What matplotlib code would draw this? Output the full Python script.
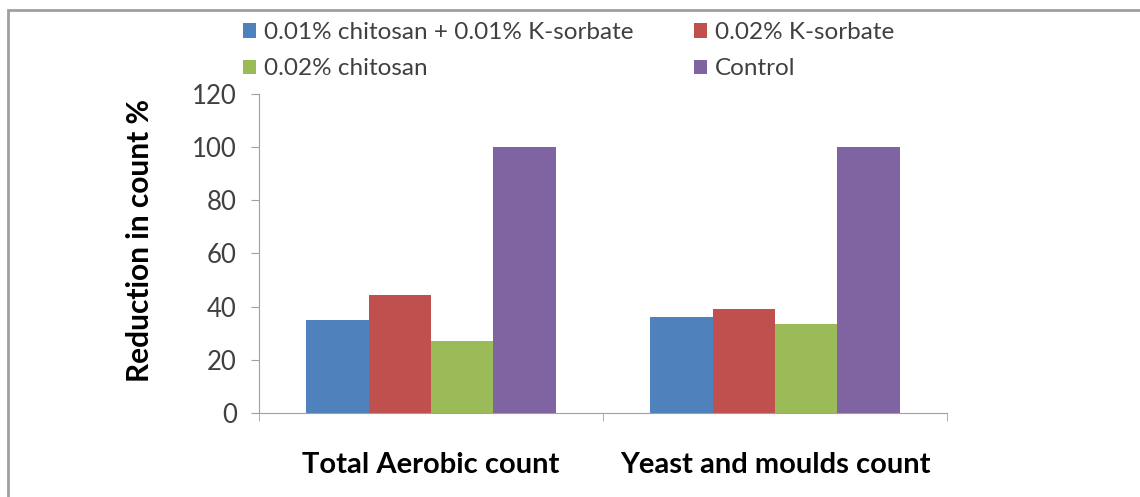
import matplotlib
matplotlib.use("Agg")
import numpy as np
import matplotlib.pyplot as plt
from matplotlib.patches import Rectangle

categories = ["Total Aerobic count", "Yeast and moulds count"]
series_names = ["0.01% chitosan + 0.01% K-sorbate", "0.02% K-sorbate",
                "0.02% chitosan", "Control"]
combo = [35, 36]
sorbate = [44.5, 39]
chitosan = [27, 33.5]
control = [100, 100]
colors = ["#4F81BD", "#C0504D", "#9BBB59", "#8064A2"]
yticks = [0, 20, 40, 60, 80, 100, 120]

plt.rcParams['font.family'] = ['Lato', 'DejaVu Sans']

fig = plt.figure(figsize=(11.4, 4.97), dpi=100)
ax = fig.add_axes([0.2272, 0.169, 0.6035, 0.6419])

x = np.arange(len(categories))
w = 0.181
bars = []
for i, (vals, c, name) in enumerate(zip([combo, sorbate, chitosan, control], colors, series_names)):
    b = ax.bar(x + (i - 1.5) * w, vals, width=w, color=c, label=name)
    bars.append(b)

ax.set_xlim(-0.5, 1.5)
ax.set_ylim(0, 120)
ax.set_yticks(yticks)
ax.tick_params(axis='y', length=6, color='#A0A0A0', labelsize=18.5, labelcolor='#404040', pad=10)
ax.set_xticks(x)
ax.set_xticklabels(categories, fontsize=21, fontweight='bold')
ax.tick_params(axis='x', which='major', length=0, pad=28)
ax.set_xticks([-0.5, 0.5, 1.5], minor=True)
ax.tick_params(axis='x', which='minor', length=6, color='#A0A0A0')
for s in ['top', 'right']:
    ax.spines[s].set_visible(False)
for s in ['left', 'bottom']:
    ax.spines[s].set_color('#A0A0A0')

ax.set_ylabel("Reduction in count %", fontsize=21.5, fontweight='bold')
ax.yaxis.set_label_coords(-0.152, 0.542)

order = [0, 2, 1, 3]
fig.legend([bars[i] for i in order], [series_names[i] for i in order],
           ncol=2, loc='upper left', bbox_to_anchor=(0.194, 1.0), frameon=False,
           fontsize=17.5, handlelength=0.55, handleheight=0.55, handletextpad=0.3,
           columnspacing=2.5, labelspacing=0.64, labelcolor='#404040')

fig.patches.append(Rectangle((8 / 1140, -0.1), 1.2, 1 - 10 / 497 + 0.1,
                             transform=fig.transFigure, fill=False,
                             edgecolor='#A0A0A0', linewidth=2))

fig.savefig("out.png", dpi=100)
